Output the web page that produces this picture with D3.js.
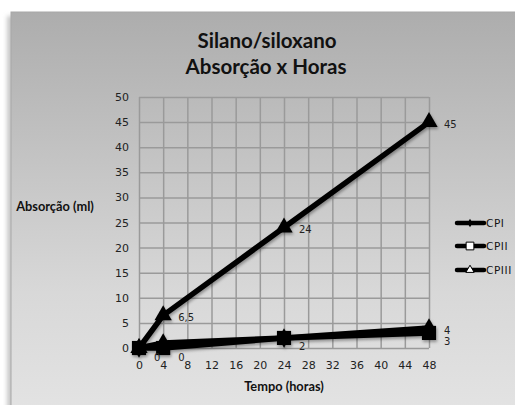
<!DOCTYPE html>
<html>
<head>
<meta charset="utf-8">
<script src="https://cdn.jsdelivr.net/npm/d3@7"></script>
<style>
  body { margin: 0; background: #fff; }
  svg { display: block; }
</style>
</head>
<body>
<svg></svg>
<script>
var width = 515
var height = 405

// data
var hours = [0, 4, 24, 48]
var cp1 = [0, 1, 2, 4]
var cp2 = [0, 0, 2, 3]
var cp3 = [0, 6.5, 24, 45]
var seriesNames = ["CPI", "CPII", "CPIII"]
var xTicks = [0, 4, 8, 12, 16, 20, 24, 28, 32, 36, 40, 44, 48]
var yTicks = [0, 5, 10, 15, 20, 25, 30, 35, 40, 45, 50]
// which points carry a visible data label
var cp1Labels = [false, false, false, true]
var cp2Labels = [true, true, true, true]
var cp3Labels = [false, true, true, true]

var svg = d3.select("svg")
    .attr("width", width)
    .attr("height", height)

var defs = svg.append("defs")
var grad = defs.append("linearGradient")
    .attr("id", "bg").attr("x1", 0).attr("y1", 0).attr("x2", 0).attr("y2", 1)
grad.append("stop").attr("offset", "0%").attr("stop-color", "#adadad")
grad.append("stop").attr("offset", "70%").attr("stop-color", "#d8d8d8")
grad.append("stop").attr("offset", "100%").attr("stop-color", "#e3e3e3")

var shadow = defs.append("filter").attr("id", "shd")
    .attr("x", "-20%").attr("y", "-20%").attr("width", "140%").attr("height", "140%")
shadow.append("feDropShadow")
    .attr("dx", 1).attr("dy", 2).attr("stdDeviation", 1.5)
    .attr("flood-color", "#000").attr("flood-opacity", 0.35)

var boxShadow = defs.append("filter").attr("id", "boxshd")
    .attr("x", "-5%").attr("y", "-5%").attr("width", "110%").attr("height", "110%")
boxShadow.append("feGaussianBlur").attr("stdDeviation", 2)

// chart box
svg.append("rect")
    .attr("x", 7).attr("y", 16).attr("width", 520).attr("height", 400)
    .attr("fill", "#c8c8c8").attr("filter", "url(#boxshd)")
svg.append("rect")
    .attr("x", 11).attr("y", 12).attr("width", 510).attr("height", 400)
    .attr("fill", "url(#bg)")
    .attr("stroke", "#a8a8a8").attr("stroke-width", 1)

// title
var title = svg.append("text")
    .attr("text-anchor", "middle")
    .style("font-family", "Lato, 'Open Sans', sans-serif")
    .style("font-weight", "bold")
    .style("font-size", "20.5px")
    .style("fill", "#111")
title.append("tspan").attr("x", 267).attr("y", 48).text("Silano/siloxano")
title.append("tspan").attr("x", 266).attr("y", 74).text("Absorção x Horas")

var x = d3.scaleLinear().domain([0, 48]).range([139, 429])
var y = d3.scaleLinear().domain([0, 50]).range([348, 97])

// gridlines + tick labels
var gx = svg.append("g")
    .attr("transform", "translate(0," + y(0) + ")")
    .call(d3.axisBottom(x).tickValues(xTicks).tickSize(-(y(0) - y(50))).tickPadding(13))
var gy = svg.append("g")
    .attr("transform", "translate(" + x(0) + ",0)")
    .call(d3.axisLeft(y).tickValues(yTicks).tickSize(-(x(48) - x(0))).tickPadding(10))

;[gx, gy].forEach(function(g) {
    g.select(".domain").remove()
    g.selectAll(".tick line")
        .attr("stroke", "#9a9a9a")
        .attr("stroke-width", 1.5)
    g.selectAll(".tick text")
        .style("font-family", "'DejaVu Sans', sans-serif")
        .style("font-size", "11px")
        .style("fill", "#222")
})

// axis titles
svg.append("text")
    .attr("x", 55).attr("y", 211)
    .attr("text-anchor", "middle")
    .style("font-family", "Lato, sans-serif")
    .style("font-weight", "bold")
    .style("font-size", "12.8px")
    .style("fill", "#111")
    .text("Absorção (ml)")

svg.append("text")
    .attr("x", 284).attr("y", 391)
    .attr("text-anchor", "middle")
    .style("font-family", "Lato, sans-serif")
    .style("font-weight", "bold")
    .style("font-size", "12.8px")
    .style("fill", "#111")
    .text("Tempo (horas)")

// series
var series = [
    { name: seriesNames[0], values: cp1, labels: cp1Labels, shape: d3.symbolDiamond, size: 110, dy: 3 },
    { name: seriesNames[1], values: cp2, labels: cp2Labels, shape: d3.symbolSquare, size: 200, dy: 9 },
    { name: seriesNames[2], values: cp3, labels: cp3Labels, shape: d3.symbolTriangle, size: 130, dy: 2 }
]

var line = d3.line()
    .x(function(d) { return x(d.h) })
    .y(function(d) { return y(d.v) })

var plot = svg.append("g").attr("filter", "url(#shd)")

series.forEach(function(s) {
    var pts = hours.map(function(h, i) { return { h: h, v: s.values[i] } })
    plot.append("path")
        .datum(pts)
        .attr("d", line)
        .attr("fill", "none")
        .attr("stroke", "#000")
        .attr("stroke-width", 5.5)
        .attr("stroke-linejoin", "round")
    plot.selectAll(null)
        .data(pts)
        .enter().append("path")
        .attr("d", d3.symbol().type(s.shape).size(s.size))
        .attr("transform", function(d) { return "translate(" + x(d.h) + "," + y(d.v) + ")" })
        .attr("fill", "#000")
})

// data labels on top
series.forEach(function(s) {
    var pts = hours.map(function(h, i) { return { h: h, v: s.values[i], show: s.labels[i] } })
    svg.append("g").selectAll("text")
        .data(pts.filter(function(d) { return d.show }))
        .enter().append("text")
        .attr("x", function(d) { return x(d.h) + 15 })
        .attr("y", function(d) { return y(d.v) + s.dy })
        .attr("dy", "0.35em")
        .style("font-family", "'DejaVu Sans', sans-serif")
        .style("font-size", "10px")
        .style("fill", "#222")
        .text(function(d) { return String(d.v).replace(".", ",") })
})

// legend
var legend = svg.append("g")
var legendY = [223, 246, 270]
series.forEach(function(s, i) {
    var row = legend.append("g").attr("transform", "translate(0," + legendY[i] + ")")
    row.append("line")
        .attr("x1", 457).attr("x2", 484)
        .attr("stroke", "#000").attr("stroke-width", 4.5)
        .attr("stroke-linecap", "round")
    var mk = row.append("path")
        .attr("transform", "translate(470,0)")
    if (i === 0) {
        mk.attr("d", d3.symbol().type(d3.symbolDiamond).size(22)).attr("fill", "#000")
    } else if (i === 1) {
        mk.attr("d", d3.symbol().type(d3.symbolSquare).size(60))
          .attr("fill", "#fff").attr("stroke", "#000").attr("stroke-width", 1)
    } else {
        mk.attr("d", d3.symbol().type(d3.symbolTriangle).size(30))
          .attr("fill", "#fff").attr("stroke", "#000").attr("stroke-width", 1)
    }
    row.append("text")
        .attr("x", 486).attr("y", 0).attr("dy", "0.35em")
        .style("font-family", "'DejaVu Sans', sans-serif")
        .style("font-size", "10.5px")
        .style("letter-spacing", "0.6px")
        .style("fill", "#111")
        .text(s.name)
})
</script>
</body>
</html>
